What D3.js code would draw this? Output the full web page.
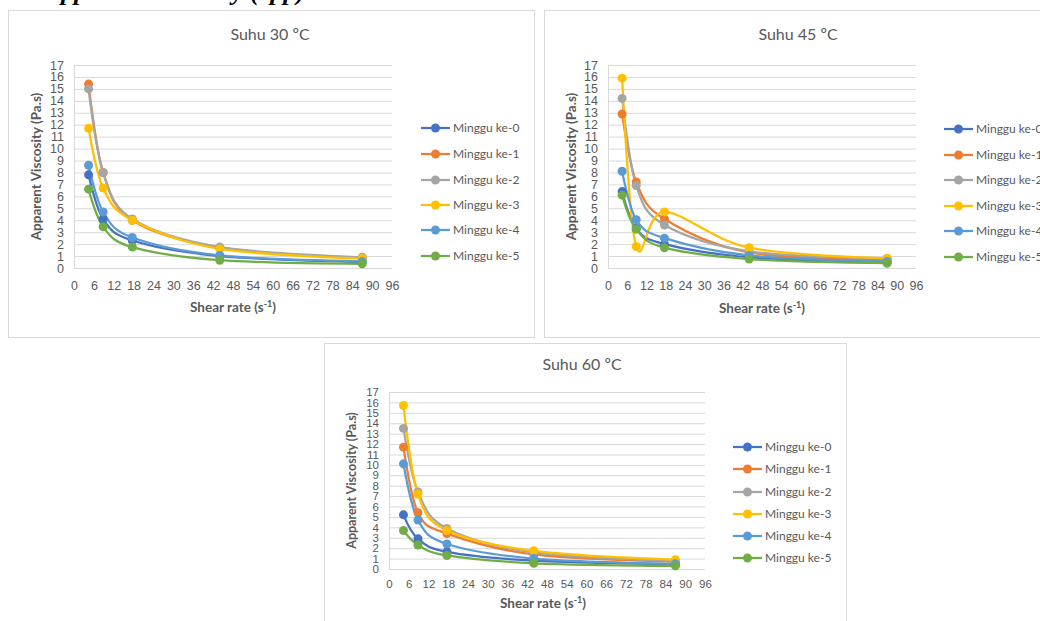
<!DOCTYPE html>
<html>
<head>
<meta charset="utf-8">
<script src="https://cdn.jsdelivr.net/npm/d3@7"></script>
<style>
  body { margin: 0; background: #fff; }
  svg { display: block; font-family: Lato, "Open Sans", sans-serif; }
</style>
</head>
<body>
<div id="chart"></div>
<script>
// shear rate (s-1) at which viscosity was measured
const shearRate = [4.4, 8.8, 17.6, 44, 87];
const seriesNames = ['Minggu ke-0', 'Minggu ke-1', 'Minggu ke-2', 'Minggu ke-3', 'Minggu ke-4', 'Minggu ke-5'];
const xTickValues = [0, 6, 12, 18, 24, 30, 36, 42, 48, 54, 60, 66, 72, 78, 84, 90, 96];
const yTickValues = [0, 1, 2, 3, 4, 5, 6, 7, 8, 9, 10, 11, 12, 13, 14, 15, 16, 17];

// apparent viscosity (Pa.s), one row per week
const visc30 = [
    [7.8, 4.1, 2.3, 1.0, 0.5],
    [15.4, 8.0, 4.0, 1.7, 0.85],
    [15.0, 8.0, 4.1, 1.75, 0.9],
    [11.7, 6.7, 4.0, 1.6, 0.8],
    [8.6, 4.7, 2.55, 1.05, 0.55],
    [6.6, 3.45, 1.75, 0.65, 0.35]
];
const visc45 = [
    [6.4, 3.3, 2.0, 0.9, 0.5],
    [12.9, 7.2, 4.1, 1.3, 0.7],
    [14.2, 6.9, 3.6, 1.4, 0.8],
    [15.9, 1.8, 4.7, 1.7, 0.8],
    [8.1, 4.05, 2.5, 1.05, 0.55],
    [6.1, 3.25, 1.7, 0.75, 0.4]
];
const visc60 = [
    [5.2, 2.9, 1.65, 0.8, 0.45],
    [11.7, 5.4, 3.4, 1.4, 0.7],
    [13.5, 7.4, 3.9, 1.6, 0.8],
    [15.7, 7.2, 3.7, 1.75, 0.9],
    [10.1, 4.7, 2.4, 1.0, 0.5],
    [3.7, 2.3, 1.3, 0.55, 0.3]
];

const colors = ['#4472C4', '#ED7D31', '#A5A5A5', '#FFC000', '#5B9BD5', '#70AD47'];
const textColor = '#595959';

const svg = d3.select('#chart').append('svg')
    .attr('width', 1040)
    .attr('height', 621);

svg.append('rect').attr('width', 1040).attr('height', 621).attr('fill', '#fff');

// cut-off heading from the page above the charts
svg.append('text')
    .attr('x', 305).attr('y', 0)
    .attr('text-anchor', 'end')
    .style('font-family', '"Liberation Serif", serif')
    .style('font-weight', 'bold')
    .style('font-style', 'italic')
    .style('font-size', '26px')
    .text('Apparent Viscosity (cpp)');

function drawPanel(p) {
    const g = svg.append('g');

    g.append('rect')
        .attr('x', p.box[0] + 0.5).attr('y', p.box[1] + 0.5)
        .attr('width', p.box[2]).attr('height', p.box[3])
        .attr('fill', '#fff')
        .attr('stroke', '#d9d9d9');

    const x = d3.scaleLinear().domain([0, 96]).range([p.left, p.right]);
    const y = d3.scaleLinear().domain([0, 17]).range([p.bottom, p.top]);

    // gridlines
    g.append('g')
        .attr('transform', 'translate(' + p.left + ',0)')
        .call(d3.axisLeft(y).tickValues(yTickValues).tickSize(-(p.right - p.left)).tickFormat(''))
        .call(a => a.select('.domain').remove())
        .call(a => a.selectAll('line').attr('stroke', '#d9d9d9'));

    g.append('line')
        .attr('x1', p.left + 0.5).attr('x2', p.left + 0.5)
        .attr('y1', p.top).attr('y2', p.bottom)
        .attr('stroke', '#d9d9d9');

    // tick labels
    g.append('g')
        .attr('transform', 'translate(' + p.left + ',0)')
        .call(d3.axisLeft(y).tickValues(yTickValues).tickSize(0).tickPadding(10))
        .call(a => a.select('.domain').remove())
        .call(a => a.selectAll('text').attr('fill', textColor).style('font-size', p.tickFont));

    g.append('g')
        .attr('transform', 'translate(0,' + p.bottom + ')')
        .call(d3.axisBottom(x).tickValues(xTickValues).tickSize(0).tickPadding(p.xPad))
        .call(a => a.select('.domain').remove())
        .call(a => a.selectAll('text').attr('fill', textColor).style('font-size', p.tickFont));

    // title
    g.append('text')
        .attr('x', p.titleX).attr('y', p.titleY)
        .attr('text-anchor', 'middle')
        .attr('fill', textColor)
        .style('font-size', '16px')
        .text(p.title);

    // axis titles
    const xl = g.append('text')
        .attr('x', p.xLabelX).attr('y', p.xLabelY)
        .attr('text-anchor', 'middle')
        .attr('fill', textColor)
        .style('font-size', '13.5px')
        .style('font-weight', 'bold');
    xl.append('tspan').text('Shear rate (s');
    xl.append('tspan').attr('dy', -5).style('font-size', '9px').text('-1');
    xl.append('tspan').attr('dy', 5).text(')');

    g.append('text')
        .attr('transform', 'translate(' + p.yLabelX + ',' + ((p.top + p.bottom) / 2) + ') rotate(-90)')
        .attr('text-anchor', 'middle')
        .attr('fill', textColor)
        .style('font-size', p.yLabelFont)
        .style('font-weight', 'bold')
        .text('Apparent Viscosity (Pa.s)');

    const line = d3.line()
        .x((d, i) => x(shearRate[i]))
        .y(d => y(d))
        .curve(d3.curveCardinal.tension(0));

    p.data.forEach((vals, s) => {
        g.append('path')
            .datum(vals)
            .attr('fill', 'none')
            .attr('stroke', colors[s])
            .attr('stroke-width', 2.25)
            .attr('stroke-linejoin', 'round')
            .attr('d', line);
    });
    p.data.forEach((vals, s) => {
        g.selectAll(null)
            .data(vals)
            .enter()
            .append('circle')
            .attr('cx', (d, i) => x(shearRate[i]))
            .attr('cy', d => y(d))
            .attr('r', 4.5)
            .attr('fill', colors[s]);
    });

    // legend
    seriesNames.forEach((name, s) => {
        const ly = p.legendY[s];
        g.append('line')
            .attr('x1', p.legendX).attr('x2', p.legendX + 29)
            .attr('y1', ly).attr('y2', ly)
            .attr('stroke', colors[s])
            .attr('stroke-width', 2.25);
        g.append('circle')
            .attr('cx', p.legendX + 14.5).attr('cy', ly)
            .attr('r', 4.5)
            .attr('fill', colors[s]);
        g.append('text')
            .attr('x', p.legendX + 32).attr('y', ly)
            .attr('dy', '0.35em')
            .attr('fill', textColor)
            .style('font-size', '12px')
            .text(name);
    });
}

drawPanel({
    title: 'Suhu 30 ºC', data: visc30,
    box: [8, 10, 526, 327],
    left: 74, right: 392, top: 65, bottom: 268,
    titleX: 270, titleY: 40,
    xLabelX: 233, xLabelY: 312, yLabelX: 41, yLabelFont: '13.5px',
    tickFont: '12.5px', xPad: 13,
    legendX: 421, legendY: [128, 154, 180, 205, 230, 256]
});

drawPanel({
    title: 'Suhu 45 ºC', data: visc45,
    box: [544, 10, 520, 327],
    left: 608, right: 916, top: 65, bottom: 268,
    titleX: 798, titleY: 40,
    xLabelX: 762, xLabelY: 313, yLabelX: 576, yLabelFont: '13.5px',
    tickFont: '12.5px', xPad: 13,
    legendX: 944, legendY: [129, 155, 180, 206, 231, 257]
});

drawPanel({
    title: 'Suhu 60 ºC', data: visc60,
    box: [324, 343, 522, 300],
    left: 389, right: 705, top: 392, bottom: 569,
    titleX: 582, titleY: 370,
    xLabelX: 543, xLabelY: 608, yLabelX: 356, yLabelFont: '12.5px',
    tickFont: '11.5px', xPad: 11,
    legendX: 733, legendY: [447, 469, 492, 514, 536, 558]
});
</script>
</body>
</html>
